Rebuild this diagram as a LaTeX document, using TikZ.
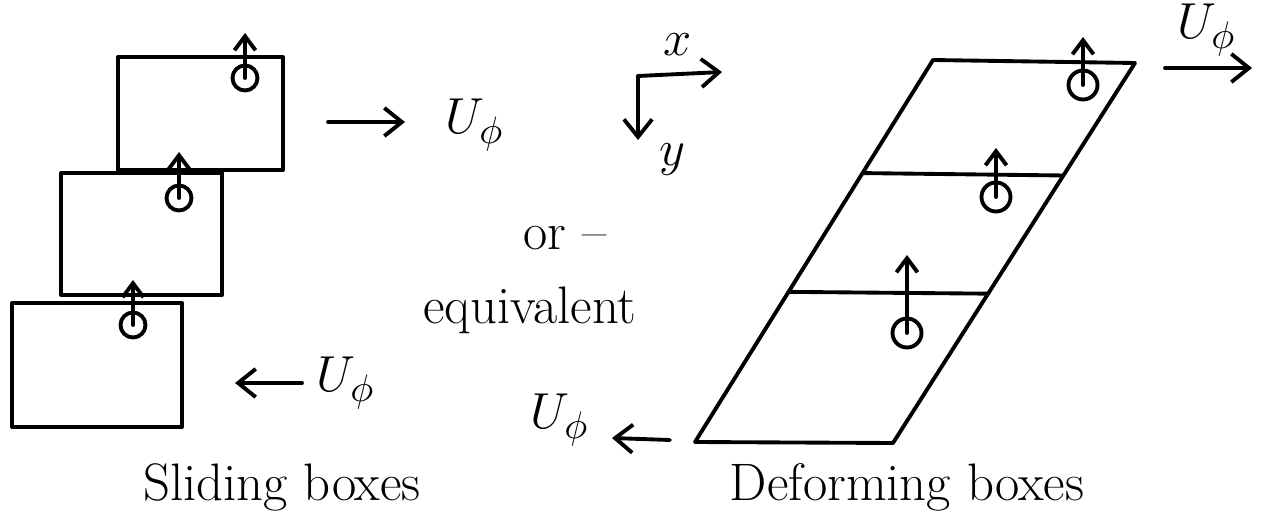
\documentclass[tikz,border=0pt]{standalone}
\usepackage{amsmath, amssymb}
\usepackage{xcolor}
\usepackage{tikz}
\usetikzlibrary{arrows.meta, positioning, calc}

\begin{document}
\begin{tikzpicture}[
  x=0.01cm, y=-0.01cm,
  every node/.style={font=\fontsize{15}{18}\selectfont},
  pen/.style={line width=1.1pt, line cap=round, line join=round},
  slidebox/.style={rectangle, draw, pen, inner sep=0pt},
  cell/.style={circle, draw, pen, minimum size=0.25cm, inner sep=0pt},
  bigcell/.style={cell, minimum size=0.29cm},
  spin/.style={pen, -{Straight Barb[length=4pt, width=6pt]}},
  flow/.style={pen, -{Straight Barb[length=5pt, width=8pt]}},
  label/.style={inner sep=1pt},
]
\useasboundingbox (0,0) rectangle (1263,521);

% Sliding boxes
\node[slidebox, minimum width=1.65cm, minimum height=1.13cm] (sb1) at (200.5,113.5) {};
\node[slidebox, minimum width=1.61cm, minimum height=1.22cm] (sb2) at (141.5,234) {};
\node[slidebox, minimum width=1.70cm, minimum height=1.24cm] (sb3) at (97,365) {};

\node[cell] (sc1) at (245,78)  {};
\node[cell] (sc2) at (179,198) {};
\node[cell] (sc3) at (133,325) {};
\coordinate (st1) at (245,33);
\coordinate (st2) at (179,152);
\coordinate (st3) at (133,280);
\draw[spin] (sc1.center) -- (st1);
\draw[spin] (sc2.center) -- (st2);
\draw[spin] (sc3.center) -- (st3);

% ── Velocity arrows (sliding) ──
\coordinate (va1) at (328,122);
\coordinate (va2) at (405,122);
\draw[flow] (va1) -- (va2);
\node[label] (vtop) at (475,125) {$U_{\phi}$};

\coordinate (vb1) at (302,383);
\coordinate (vb2) at (235,383);
\draw[flow] (vb1) -- (vb2);
\node[label] (vbot) at (346,383) {$U_{\phi}$};

\node (slid) at (282,487) {Sliding boxes};

% ── Axes ──
\coordinate (ax0) at (638,76);
\coordinate (axx) at (722,72);
\coordinate (axy) at (638,140);
\draw[flow] (ax0) -- (axx);
\draw[flow] (ax0) -- (axy);
\node[label] (xlab) at (678,45)  {$x$};
\node[label] (ylab) at (672,160) {$y$};

\node (orl) at (565,238) {or --};
\node (equ) at (530,310) {equivalent};

% Deforming boxes
\coordinate (dTL) at (933,60);
\coordinate (dTR) at (1135,63);
\coordinate (dBR) at (893,443);
\coordinate (dBL) at (695,442);
\draw[pen] (dTL) -- (dTR) -- (dBR) -- (dBL) -- cycle;
\draw[pen] ($(dTL)!0.296!(dBL)$) -- ($(dTR)!0.296!(dBR)$);
\draw[pen] ($(dTL)!0.607!(dBL)$) -- ($(dTR)!0.607!(dBR)$);

\node[bigcell] (dc1) at (1083,85)  {};
\node[bigcell] (dc2) at (996,197)  {};
\node[bigcell] (dc3) at (907,333)  {};
\coordinate (dt1) at (1083,37);
\coordinate (dt2) at (996,148);
\coordinate (dt3) at (907,255);
\draw[spin] (dc1.center) -- (dt1);
\draw[spin] (dc2.center) -- (dt2);
\draw[spin] (dc3.center) -- (dt3);

% ── Velocity arrows (deforming) ──
\coordinate (vc1) at (1165,68);
\coordinate (vc2) at (1252,68);
\draw[flow] (vc1) -- (vc2);
\node[label] (vright) at (1207,30) {$U_{\phi}$};

\coordinate (vd1) at (670,440);
\coordinate (vd2) at (612,438);
\draw[flow] (vd1) -- (vd2);
\node[label] (vleft) at (560,420) {$U_{\phi}$};

\node (defo) at (907,487) {Deforming boxes};

\end{tikzpicture}
\end{document}
